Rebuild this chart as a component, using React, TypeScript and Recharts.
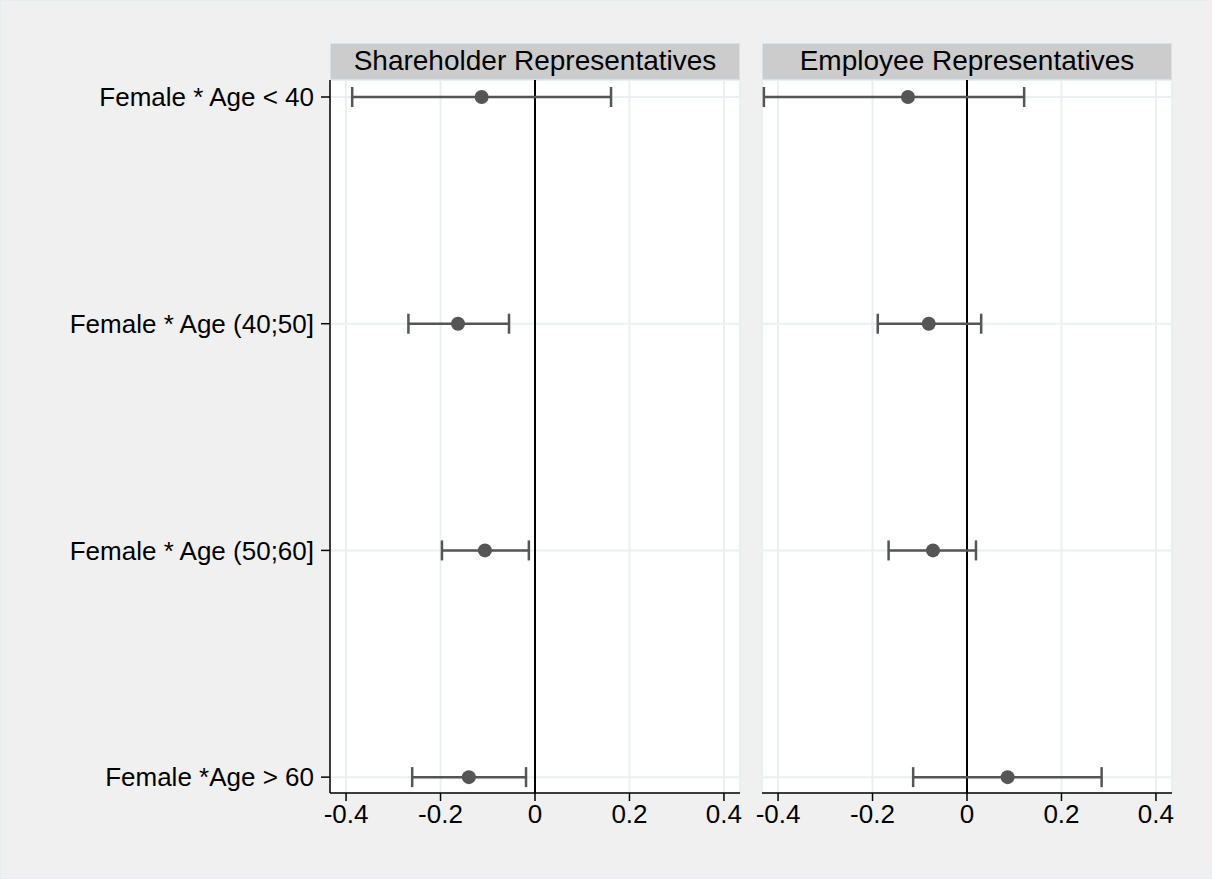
import React from 'react';
import {
  ScatterChart, Scatter, XAxis, YAxis, CartesianGrid, ReferenceLine, ErrorBar,
} from 'recharts';

// coefficient plot: point estimates with confidence intervals
const categories = [
  'Female * Age < 40',
  'Female * Age (40;50]',
  'Female * Age (50;60]',
  'Female *Age > 60',
];
const xTicks = [-0.4, -0.2, 0, 0.2, 0.4];

const shareholderCoef = [-0.113, -0.163, -0.106, -0.140];
const shareholderLow = [-0.387, -0.268, -0.197, -0.260];
const shareholderHigh = [0.161, -0.055, -0.013, -0.019];

const employeeCoef = [-0.125, -0.081, -0.072, 0.086];
const employeeLow = [-0.430, -0.189, -0.166, -0.114];
const employeeHigh = [0.121, 0.030, 0.019, 0.285];

const FONT = '"Liberation Sans", Arial, Helvetica, sans-serif';
const MARK = '#555555';
const GRID = '#e8f0f2';

const build = (coef: number[], low: number[], high: number[]) =>
  coef.map((c, i) => ({ x: c, y: i + 1, err: [c - low[i], high[i] - c] }));

const shareholderData = build(shareholderCoef, shareholderLow, shareholderHigh);
const employeeData = build(employeeCoef, employeeLow, employeeHigh);

const Dot = (props: any) => <circle cx={props.cx} cy={props.cy} r={7} fill={MARK} />;

const tickStyle = { fontSize: 26, fill: '#000', fontFamily: FONT };

function Panel({ data, showY, left, width, marginLeft, marginRight, yWidth }: any) {
  return (
    <div style={{ position: 'absolute', left, top: 0 }}>
      <ScatterChart
        width={width}
        height={879}
        margin={{ top: 79, right: marginRight, bottom: 47, left: marginLeft }}
      >
        <CartesianGrid stroke={GRID} strokeWidth={2} fill="#ffffff" />
        <XAxis
          type="number"
          dataKey="x"
          domain={[-0.434, 0.434]}
          ticks={xTicks}
          allowDataOverflow
          tickFormatter={(v: number) => (v === 0 ? '0' : String(v))}
          tick={tickStyle}
          tickSize={8}
          tickMargin={4}
          height={40}
          stroke="#000"
          axisLine={{ stroke: '#000', strokeWidth: 1.5 }}
          tickLine={{ stroke: '#000', strokeWidth: 1.5 }}
        />
        <YAxis
          type="number"
          dataKey="y"
          domain={[0.925, 4.07]}
          ticks={[1, 2, 3, 4]}
          reversed
          allowDataOverflow
          hide={!showY}
          width={yWidth}
          tickFormatter={(v: number) => categories[v - 1] ?? ''}
          tick={tickStyle}
          tickSize={9}
          tickMargin={7}
          axisLine={{ stroke: '#000', strokeWidth: 1.5 }}
          tickLine={{ stroke: '#000', strokeWidth: 1.5 }}
        />
        <ReferenceLine x={0} stroke="#000" strokeWidth={2} />
        <Scatter data={data} shape={Dot} isAnimationActive={false}>
          <ErrorBar dataKey="err" direction="x" width={10} stroke={MARK} strokeWidth={2.5} />
        </Scatter>
      </ScatterChart>
    </div>
  );
}

const headerStyle = (left: number, width: number): React.CSSProperties => ({
  position: 'absolute',
  left,
  top: 42,
  width,
  height: 37,
  boxSizing: 'border-box',
  background: '#cccccc',
  border: '1px solid #d4e3ea',
  fontFamily: FONT,
  fontSize: 28,
  lineHeight: '34px',
  textAlign: 'center',
  color: '#000',
});

export default function App() {
  return (
    <div
      style={{
        position: 'relative',
        width: 1212,
        height: 879,
        background: '#f0f0f0',
        boxSizing: 'border-box',
        border: '1px solid #e6edf0',
        overflow: 'hidden',
      }}
    >
      <style>{'body{margin:0;}'}</style>
      <Panel data={shareholderData} showY left={0} width={760} marginLeft={0} marginRight={21} yWidth={329} />
      <Panel data={employeeData} showY={false} left={740} width={472} marginLeft={21} marginRight={41} yWidth={0} />
      <div style={headerStyle(329, 410)}>Shareholder Representatives</div>
      <div style={headerStyle(761, 410)}>Employee Representatives</div>
    </div>
  );
}
